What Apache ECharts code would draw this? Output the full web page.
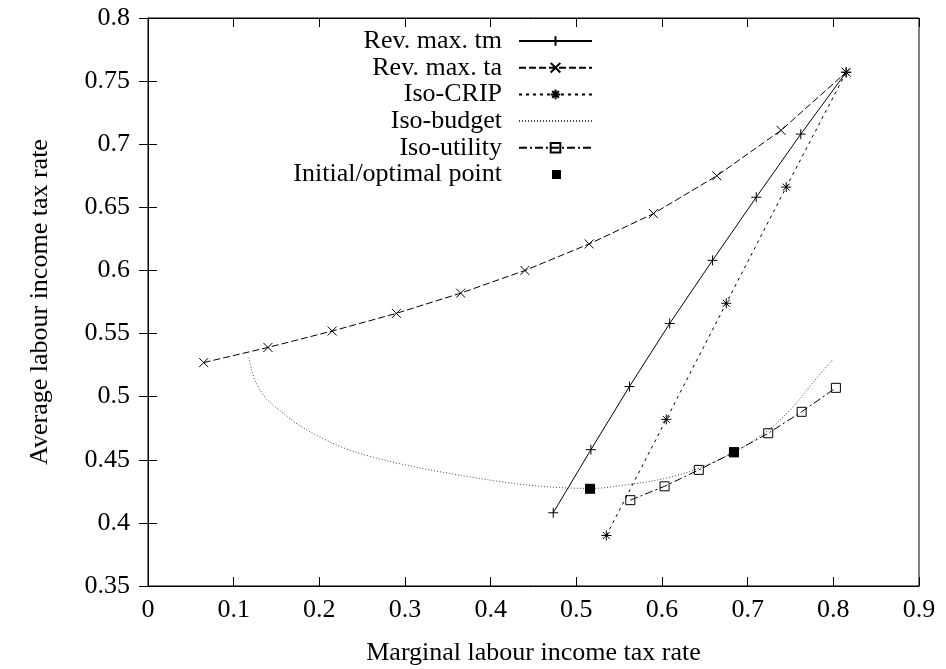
<!DOCTYPE html>
<html>
<head>
<meta charset="utf-8">
<script src="https://cdn.jsdelivr.net/npm/echarts@6/dist/echarts.min.js"></script>
<style>
  html, body { margin: 0; padding: 0; background: #fff; }
  #chart { width: 946px; height: 669px; }
</style>
</head>
<body>
<div id="chart"></div>
<script>
// Revenue-maximising locus when the marginal rate (tm) is varied
const tmX = [0.473, 0.517, 0.562, 0.609, 0.659, 0.710, 0.762, 0.815];
const tmY = [0.408, 0.458, 0.508, 0.558, 0.608, 0.658, 0.708, 0.757];
// Revenue-maximising locus when the average rate (ta) is varied
const taX = [0.065, 0.140, 0.215, 0.290, 0.365, 0.440, 0.515, 0.590, 0.664, 0.739, 0.815];
const taY = [0.527, 0.539, 0.552, 0.566, 0.582, 0.600, 0.621, 0.645, 0.675, 0.711, 0.757];
// Constant CRIP line
const crX = [0.535, 0.605, 0.675, 0.745, 0.815];
const crY = [0.390, 0.482, 0.574, 0.666, 0.757];
// Constant government budget curve
const budX = [0.118, 0.121, 0.125, 0.131, 0.140, 0.154, 0.175, 0.201, 0.230, 0.263, 0.300, 0.341, 0.380, 0.418, 0.450, 0.480, 0.516, 0.562, 0.605, 0.644, 0.684, 0.724, 0.753, 0.776, 0.800];
const budY = [0.531, 0.521, 0.513, 0.505, 0.497, 0.489, 0.478, 0.468, 0.459, 0.452, 0.446, 0.4405, 0.436, 0.432, 0.4295, 0.428, 0.4273, 0.4305, 0.4355, 0.4435, 0.456, 0.4735, 0.492, 0.511, 0.530];
// Constant utility curve
const utilX = [0.563, 0.603, 0.643, 0.684, 0.724, 0.763, 0.803];
const utilY = [0.418, 0.429, 0.442, 0.456, 0.471, 0.488, 0.507];
// Initial and optimal tax points
const ptX = [0.516, 0.684];
const ptY = [0.427, 0.456];

const xTicks = [0, 0.1, 0.2, 0.3, 0.4, 0.5, 0.6, 0.7, 0.8, 0.9];
const yTicks = [0.35, 0.4, 0.45, 0.5, 0.55, 0.6, 0.65, 0.7, 0.75, 0.8];

const names = ['Rev. max. tm', 'Rev. max. ta', 'Iso-CRIP', 'Iso-budget', 'Iso-utility', 'Initial/optimal point'];

const pair = (xs, ys) => xs.map((x, i) => [x, ys[i]]);

const FONT = "'Liberation Serif', 'Times New Roman', serif";
const FS = 26;

const PLUS = 'path://M0,5L10,5M5,0L5,10';
const CROSS = 'path://M0,0L10,10M10,0L0,10';
const STAR = 'path://M0,5L10,5M5,0L5,10M1.5,1.5L8.5,8.5M8.5,1.5L1.5,8.5';
const BOX = 'path://M0,0L10,0L10,10L0,10Z';

const strokeSym = { color: 'rgba(0,0,0,0)', borderColor: '#000', borderWidth: 1 };

function lineSeries(name, data, symbol, size, lineType, lineColor) {
  return {
    name, type: 'line', data, symbol, symbolSize: size,
    showAllSymbol: true, animation: false,
    lineStyle: { color: lineColor || '#000', width: 1, type: lineType },
    itemStyle: strokeSym,
    emphasis: { disabled: true }
  };
}

const series = [
  lineSeries(names[0], pair(tmX, tmY), PLUS, 10, 'solid'),
  lineSeries(names[1], pair(taX, taY), CROSS, 9, [7, 3]),
  lineSeries(names[2], pair(crX, crY), STAR, 10, [3, 4]),
  Object.assign(lineSeries(names[3], pair(budX, budY), 'none', 0, [1, 2], '#444'), { smooth: 0.35 }),
  lineSeries(names[4], pair(utilX, utilY), BOX, 9, [8, 3, 2, 3]),
  {
    name: names[5], type: 'scatter', data: pair(ptX, ptY),
    symbol: 'rect', symbolSize: 10, animation: false,
    itemStyle: { color: '#000', opacity: 1 }, z: 5,
    emphasis: { disabled: true }
  }
];

// One legend block per entry, right-aligned so the samples line up in a column
const legendText = { fontFamily: FONT, fontSize: FS, color: '#000', padding: [0, 12, 0, 0], lineHeight: 26 };
const legends = names.map((n, i) => {
  const lg = {
    data: [n], orient: 'vertical', align: 'right',
    right: 353, top: 28 + i * 26.7,
    padding: 0, itemWidth: 73, itemHeight: 12,
    selectedMode: false,
    textStyle: legendText
  };
  if (i === 3) {
    lg.itemStyle = { color: 'rgba(0,0,0,0)', borderWidth: 0, opacity: 0 };
  }
  if (i === 5) {
    lg.itemWidth = 9;
    lg.itemHeight = 9;
    lg.right = 385;
    lg.textStyle = Object.assign({}, legendText, { padding: [0, 45, 0, 0] });
  }
  return lg;
});

const axisCommon = {
  axisLine: { show: true, lineStyle: { color: '#000', width: 1 } },
  axisTick: { show: true, inside: true, length: 9, lineStyle: { color: '#000', width: 1 } },
  splitLine: { show: false }
};

const option = {
  backgroundColor: '#fff',
  animation: false,
  textStyle: { fontFamily: FONT },
  grid: {
    left: 148, right: 27, top: 18, bottom: 83,
    outerBoundsMode: 'none', containLabel: false,
    show: true, borderColor: '#000', borderWidth: 1
  },
  legend: legends,
  xAxis: [
    Object.assign({
      type: 'value', min: xTicks[0], max: xTicks[xTicks.length - 1], interval: 0.1,
      name: 'Marginal labour income tax rate', nameLocation: 'middle', nameGap: 54,
      nameTextStyle: { fontFamily: FONT, fontSize: FS, color: '#000' },
      axisLabel: { fontFamily: FONT, fontSize: FS, color: '#000', margin: 11,
        formatter: v => String(+v.toFixed(2)) }
    }, axisCommon),
    Object.assign({
      type: 'value', position: 'top', min: xTicks[0], max: xTicks[xTicks.length - 1], interval: 0.1,
      axisLabel: { show: false }
    }, axisCommon)
  ],
  yAxis: [
    Object.assign({
      type: 'value', min: yTicks[0], max: yTicks[yTicks.length - 1], interval: 0.05,
      name: 'Average labour income tax rate', nameLocation: 'middle', nameGap: 95,
      nameTextStyle: { fontFamily: FONT, fontSize: FS, color: '#000' },
      axisLabel: { fontFamily: FONT, fontSize: FS, color: '#000', margin: 18,
        formatter: v => String(+v.toFixed(2)) }
    }, axisCommon),
    Object.assign({
      type: 'value', position: 'right', min: yTicks[0], max: yTicks[yTicks.length - 1], interval: 0.05,
      axisLabel: { show: false }
    }, axisCommon)
  ],
  series
};

const chart = echarts.init(document.getElementById('chart'), null, { renderer: 'canvas' });
chart.setOption(option);
</script>
</body>
</html>
